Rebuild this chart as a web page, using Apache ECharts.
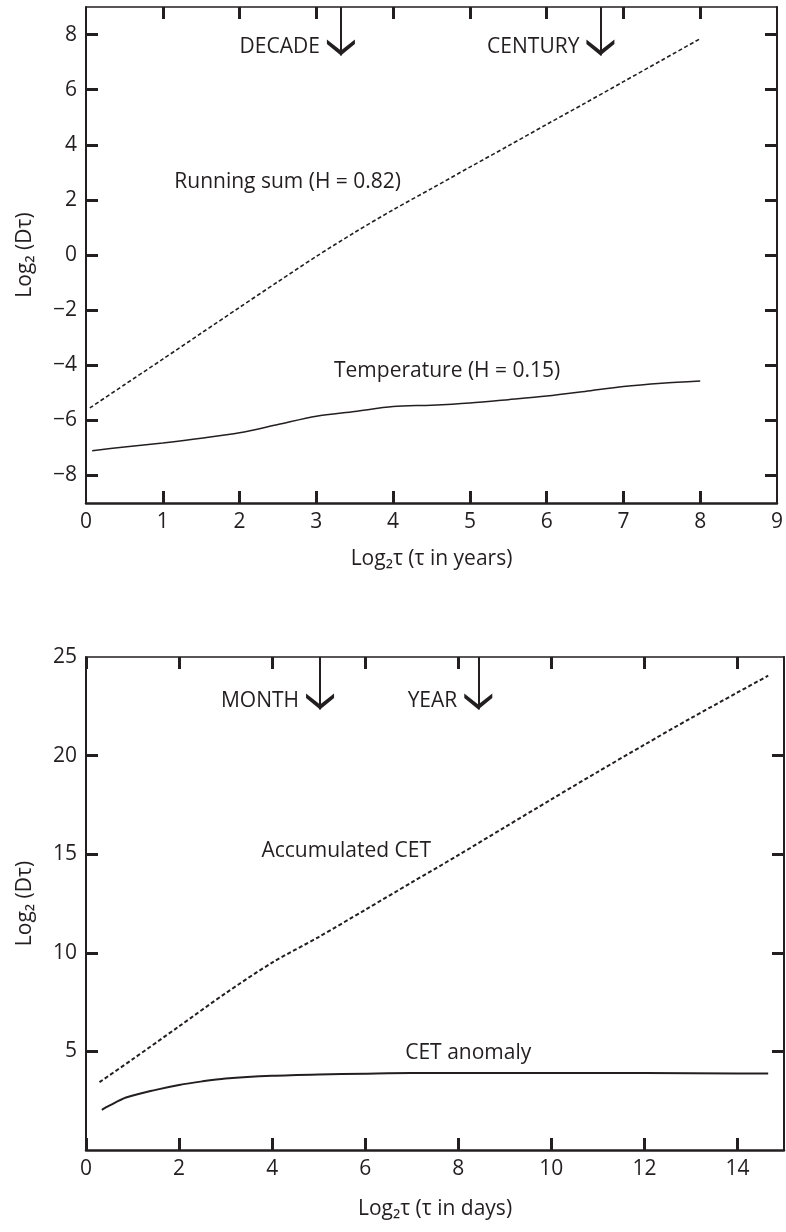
<!DOCTYPE html>
<html>
<head>
<meta charset="utf-8">
<script src="https://cdn.jsdelivr.net/npm/echarts@6/dist/echarts.min.js"></script>
<style>
html,body{margin:0;padding:0;background:#fff;}
#chart{width:786px;height:1232px;}
</style>
</head>
<body>
<div id="chart"></div>
<script>
// ---- Top panel data (tau in years) ----
const runningSumX = [0.05, 0.5, 1, 1.5, 2, 2.5, 3, 3.5, 4, 4.5, 5, 5.5, 6, 6.5, 7, 7.5, 8];
const runningSumY = [-5.55, -4.71, -3.78, -2.84, -1.9, -0.97, -0.05, 0.82, 1.64, 2.41, 3.19, 3.96, 4.74, 5.51, 6.29, 7.07, 7.85];
const temperatureX = [0.08, 0.5, 1, 1.5, 2, 2.5, 3, 3.5, 4, 4.5, 5, 5.5, 6, 6.5, 7, 7.5, 8];
const temperatureY = [-7.1, -6.97, -6.82, -6.65, -6.45, -6.15, -5.85, -5.68, -5.5, -5.45, -5.37, -5.25, -5.12, -4.95, -4.77, -4.65, -4.57];

// ---- Bottom panel data (tau in days) ----
const accumX = [0.29, 1, 2, 3, 4, 5, 6, 7, 8, 9, 10, 11, 12, 13, 14, 14.66];
const accumY = [3.44, 4.6, 6.27, 7.95, 9.5, 10.8, 12.18, 13.57, 14.95, 16.37, 17.78, 19.18, 20.55, 21.9, 23.2, 24.05];
const anomalyX = [0.34, 0.5, 0.86, 1.5, 2, 2.5, 3, 4, 5, 6, 7, 8, 10, 12, 14, 14.66];
const anomalyY = [2.04, 2.25, 2.66, 3.05, 3.3, 3.48, 3.62, 3.76, 3.83, 3.87, 3.9, 3.9, 3.9, 3.9, 3.88, 3.88];

// ---- Tick values ----
const topXLabels = [0, 1, 2, 3, 4, 5, 6, 7, 8, 9];
const topXTicks = [1, 2, 3, 4, 5, 6, 7, 8];
const topYTicks = [-8, -6, -4, -2, 0, 2, 4, 6, 8];
const botXLabels = [0, 2, 4, 6, 8, 10, 12, 14];
const botYLabels = [5, 10, 15, 20, 25];
const botYTicks = [5, 10, 15, 20];

// ---- Annotations (data coordinates) ----
const topArrowNames = ['DECADE', 'CENTURY'];
const topArrowX = [3.32, 6.7];
const topArrowTip = [7.24, 7.24];
const botArrowNames = ['MONTH', 'YEAR'];
const botArrowX = [5.03, 8.43];
const botArrowTip = [22.34, 22.34];
const topCurveNames = ['Running sum (H = 0.82)', 'Temperature (H = 0.15)'];
const topCurveLabelX = [1.15, 3.23];
const topCurveLabelY = [2.65, -4.22];
const botCurveNames = ['Accumulated CET', 'CET anomaly'];
const botCurveLabelX = [3.77, 6.86];
const botCurveLabelY = [15.14, 4.93];

const INK = '#231f20';
const FONT = 'Open Sans';
const FS = 21;
const zip = (xs, ys) => xs.map((x, i) => [x, ys[i]]);
const minus = v => (v < 0 ? '\u2212' + Math.abs(v) : String(v));
const chevron = 'path://M0,0 L14,11 L28,0 L28,4.5 L14,16 L0,4.5 Z';

function xAxisPair(grid, min, max, interval, labels, ticks, name, gap) {
  return [
    {
      gridIndex: grid, type: 'value', position: 'bottom', min, max, interval,
      axisLine: { onZero: false, lineStyle: { color: INK, width: 2.5 } },
      axisTick: { inside: true, length: 12, customValues: ticks, lineStyle: { color: INK, width: 3 } },
      axisLabel: { customValues: labels, color: INK, fontFamily: FONT, fontSize: FS, margin: 9, formatter: minus },
      splitLine: { show: false },
      name, nameLocation: 'middle', nameGap: gap,
      nameTextStyle: { color: INK, fontFamily: FONT, fontSize: FS }
    },
    {
      gridIndex: grid, type: 'value', position: 'top', min, max, interval,
      axisLine: { onZero: false, lineStyle: { color: INK, width: 1.5 } },
      axisTick: { inside: true, length: 12, customValues: ticks, lineStyle: { color: INK, width: 3 } },
      axisLabel: { show: false },
      splitLine: { show: false }
    }
  ];
}
function yAxisPair(grid, min, max, interval, labels, ticks, name) {
  return [
    {
      gridIndex: grid, type: 'value', position: 'left', min, max, interval,
      axisLine: { onZero: false, lineStyle: { color: INK, width: 2 } },
      axisTick: { inside: true, length: 12, customValues: ticks, lineStyle: { color: INK, width: 3 } },
      axisLabel: { customValues: labels, color: INK, fontFamily: FONT, fontSize: FS, margin: 9, formatter: minus },
      splitLine: { show: false },
      name, nameLocation: 'middle', nameGap: 50,
      nameTextStyle: { color: INK, fontFamily: FONT, fontSize: FS }
    },
    {
      gridIndex: grid, type: 'value', position: 'right', min, max, interval,
      axisLine: { onZero: false, lineStyle: { color: INK, width: 2 } },
      axisTick: { inside: true, length: 12, customValues: ticks, lineStyle: { color: INK, width: 3 } },
      axisLabel: { show: false },
      splitLine: { show: false }
    }
  ];
}

function arrowSeries(xi, yi, names, xs, tips, yTop) {
  return {
    type: 'scatter', xAxisIndex: xi, yAxisIndex: yi, silent: true,
    symbol: chevron, symbolSize: [28, 16], symbolOffset: [0, -8],
    itemStyle: { color: INK, opacity: 1 },
    label: {
      show: true, position: 'left', distance: 7, color: INK,
      fontFamily: FONT, fontSize: FS, formatter: p => p.name
    },
    data: names.map((n, i) => ({ name: n, value: [xs[i], tips[i]] })),
    markLine: {
      silent: true, symbol: 'none', label: { show: false },
      lineStyle: { type: 'solid', width: 2, color: INK, opacity: 1 },
      data: xs.map((x, i) => [{ coord: [x, yTop] }, { coord: [x, tips[i]] }])
    },
    z: 5
  };
}
function textSeries(xi, yi, names, xs, ys) {
  return {
    type: 'scatter', xAxisIndex: xi, yAxisIndex: yi, silent: true,
    symbolSize: 0,
    itemStyle: { opacity: 1 },
    label: {
      show: true, position: 'right', distance: 0, color: INK,
      fontFamily: FONT, fontSize: FS, formatter: p => p.name
    },
    data: names.map((n, i) => ({ name: n, value: [xs[i], ys[i]] }))
  };
}
function curve(xi, yi, xs, ys, dashed, width) {
  return {
    type: 'line', xAxisIndex: xi, yAxisIndex: yi, showSymbol: false, smooth: 0.3,
    lineStyle: { color: INK, width, type: dashed ? [4, 2.5] : 'solid' },
    data: zip(xs, ys), silent: true
  };
}

const chart = echarts.init(document.getElementById('chart'), null, { renderer: 'canvas' });
chart.setOption({
  animation: false,
  backgroundColor: '#fff',
  grid: [
    { left: 86, right: 2, top: 7, height: 496 },
    { left: 86, right: 2, top: 657, height: 493 }
  ],
  xAxis: [
    ...xAxisPair(0, 0, 9, 1, topXLabels, topXTicks, 'Log\u2082\u03c4 (\u03c4 in years)', 46),
    ...xAxisPair(1, 0, 15, 1, botXLabels, botXLabels, 'Log\u2082\u03c4 (\u03c4 in days)', 49)
  ],
  yAxis: [
    ...yAxisPair(0, -9, 9, 1, topYTicks, topYTicks, 'Log\u2082 (D\u03c4)'),
    ...yAxisPair(1, 0, 25, 5, botYLabels, botYTicks, 'Log\u2082 (D\u03c4)')
  ],
  series: [
    curve(0, 0, runningSumX, runningSumY, true, 1.6),
    curve(0, 0, temperatureX, temperatureY, false, 1.5),
    curve(2, 2, accumX, accumY, true, 2),
    curve(2, 2, anomalyX, anomalyY, false, 2),
    arrowSeries(0, 0, topArrowNames, topArrowX, topArrowTip, 9),
    arrowSeries(2, 2, botArrowNames, botArrowX, botArrowTip, 25),
    textSeries(0, 0, topCurveNames, topCurveLabelX, topCurveLabelY),
    textSeries(2, 2, botCurveNames, botCurveLabelX, botCurveLabelY)
  ]
});
</script>
</body>
</html>
